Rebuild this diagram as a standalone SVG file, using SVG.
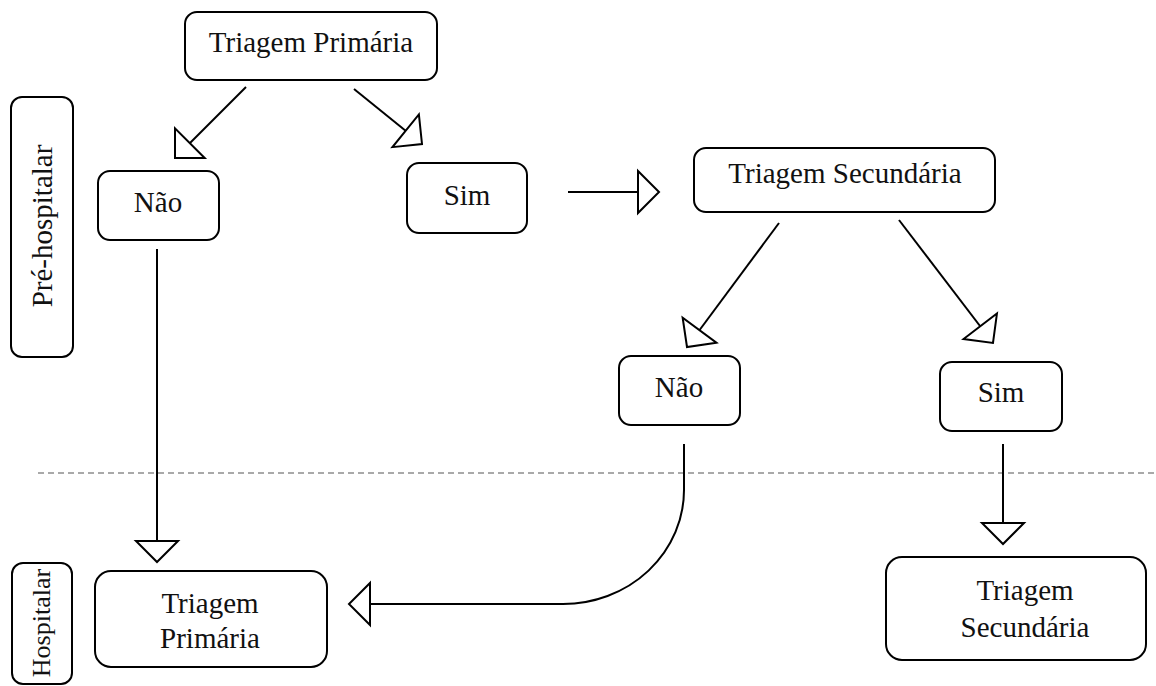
<svg xmlns="http://www.w3.org/2000/svg" width="1156" height="686" viewBox="0 0 1156 686">
<style>
.box{fill:#fff;stroke:#000;stroke-width:2}
.lbl{font-family:"Liberation Serif","Times New Roman",serif;font-size:29px;fill:#111;text-anchor:middle}
.con{fill:none;stroke:#000;stroke-width:2;marker-end:url(#tri)}
.sep{stroke:#555;stroke-width:1.2;stroke-dasharray:6 4;fill:none}
</style>
<defs>
<marker id="tri" markerUnits="userSpaceOnUse" viewBox="-2 -24 26 48" refX="21" refY="0" markerWidth="26" markerHeight="48" orient="auto">
<path d="M0,-21 L21,0 L0,21 Z" fill="#fff" stroke="#000" stroke-width="2" stroke-linejoin="miter"/>
</marker>
</defs>
<rect width="1156" height="686" fill="#fff"/>
<line id="separator" class="sep" x1="38" y1="473" x2="1156" y2="473"/>
<g id="phase-pre">
<rect class="box" x="11" y="97" width="62" height="260" rx="11"/>
<text class="lbl" transform="translate(52,226) rotate(-90)">Pré-hospitalar</text>
</g>
<g id="phase-hosp">
<rect class="box" x="12" y="563" width="60" height="121" rx="11"/>
<text class="lbl" style="font-size:26px" transform="translate(50,623) rotate(-90)">Hospitalar</text>
</g>
<g id="connectors">
<line class="con" x1="246" y1="87" x2="175" y2="158"/>
<line class="con" x1="354" y1="89" x2="422" y2="144"/>
<line class="con" x1="568" y1="192" x2="659" y2="192"/>
<line class="con" x1="157" y1="249" x2="157" y2="562"/>
<line class="con" x1="779" y1="223" x2="687" y2="347"/>
<line class="con" x1="899" y1="220" x2="993" y2="343"/>
<line class="con" x1="1003" y1="444" x2="1003" y2="544"/>
<path class="con" d="M684,444 V490 A121,114 0 0 1 563,604 H349"/>
</g>
<g id="n-triagem-primaria">
<rect class="box" x="185" y="12" width="252" height="68" rx="12"/>
<text class="lbl" x="311" y="52">Triagem Primária</text>
</g>
<g id="n-nao-1">
<rect class="box" x="98" y="171" width="121" height="69" rx="12"/>
<text class="lbl" x="158" y="212">Não</text>
</g>
<g id="n-sim-1">
<rect class="box" x="407" y="163" width="120" height="70" rx="12"/>
<text class="lbl" x="467" y="205">Sim</text>
</g>
<g id="n-triagem-secundaria">
<rect class="box" x="694" y="148" width="301" height="64" rx="12"/>
<text class="lbl" x="845" y="183">Triagem Secundária</text>
</g>
<g id="n-nao-2">
<rect class="box" x="619" y="356" width="121" height="69" rx="12"/>
<text class="lbl" x="679" y="397">Não</text>
</g>
<g id="n-sim-2">
<rect class="box" x="940" y="362" width="122" height="69" rx="12"/>
<text class="lbl" x="1001" y="402">Sim</text>
</g>
<g id="n-hosp-primaria">
<rect class="box" x="95" y="571" width="232" height="96" rx="16"/>
<text class="lbl" x="210" y="613">Triagem</text>
<text class="lbl" x="210" y="648">Primária</text>
</g>
<g id="n-hosp-secundaria">
<rect class="box" x="886" y="557" width="260" height="103" rx="16"/>
<text class="lbl" x="1025" y="600">Triagem</text>
<text class="lbl" x="1025" y="637">Secundária</text>
</g>
</svg>
